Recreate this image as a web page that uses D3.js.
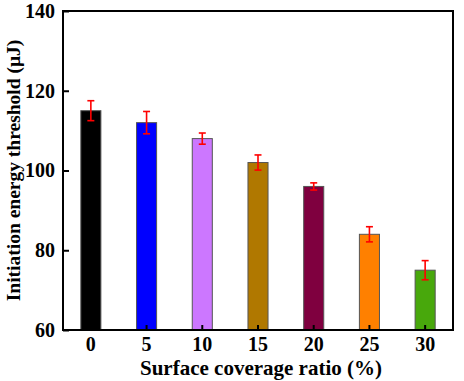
<!DOCTYPE html>
<html><head><meta charset="utf-8">
<script src="https://cdn.jsdelivr.net/npm/d3@7"></script>
<style>body{margin:0;background:#fff}svg{display:block}</style>
</head><body>
<script>
const categories = ["0","5","10","15","20","25","30"];
const values = [115, 112, 108, 102, 96, 84, 75];
const errors = [2.5, 2.8, 1.4, 1.9, 0.9, 1.9, 2.4];
const colors = ["#000000","#0000ff","#cc77ff","#b07800","#7f003f","#ff8000","#48a80c"];
const yTicks = [60, 80, 100, 120, 140];

const W = 464, H = 381;
const m = {l:63, r:11, t:11, b:51};
const svg = d3.select("body").append("svg").attr("width", W).attr("height", H);
const font = "'Liberation Serif','Times New Roman',serif";

const x = d3.scaleBand().domain(categories).range([m.l, W - m.r]).paddingInner(0.64).paddingOuter(0.32);
const y = d3.scaleLinear().domain([60, 140]).range([H - m.b, m.t]);

// bars
svg.append("g").selectAll("rect").data(values).join("rect")
  .attr("x", (d,i) => x(categories[i]))
  .attr("y", d => y(d))
  .attr("width", x.bandwidth())
  .attr("height", d => y(60) - y(d))
  .attr("fill", (d,i) => colors[i])
  .attr("stroke", "#555").attr("stroke-width", 1);

// error bars
const eg = svg.append("g").attr("stroke", "#ff0000").attr("stroke-width", 1.6);
values.forEach((v,i) => {
  const cx = x(categories[i]) + x.bandwidth()/2;
  const e = errors[i];
  eg.append("line").attr("x1", cx).attr("x2", cx).attr("y1", y(v+e)).attr("y2", y(v-e));
  eg.append("line").attr("x1", cx-3.5).attr("x2", cx+3.5).attr("y1", y(v+e)).attr("y2", y(v+e));
  eg.append("line").attr("x1", cx-3.5).attr("x2", cx+3.5).attr("y1", y(v-e)).attr("y2", y(v-e));
});

// axes
const yAxis = d3.axisLeft(y).tickValues(yTicks).tickSizeInner(-6).tickSizeOuter(0).tickPadding(8);
const gy = svg.append("g").attr("transform", `translate(${m.l},0)`).call(yAxis);
const xAxis = d3.axisBottom(x).tickSizeInner(-5).tickSizeOuter(0).tickPadding(7);
const gx = svg.append("g").attr("transform", `translate(0,${H - m.b})`).call(xAxis);
[gy, gx].forEach(g => {
  g.select(".domain").remove();
  g.selectAll(".tick line").attr("stroke", "#000").attr("stroke-width", 2);
  g.selectAll("text").attr("font-family", font).attr("font-weight", "bold")
    .attr("font-size", 20).attr("fill", "#000");
});

// frame
svg.append("rect").attr("x", m.l).attr("y", m.t)
  .attr("width", W - m.r - m.l).attr("height", H - m.b - m.t)
  .attr("fill", "none").attr("stroke", "#000").attr("stroke-width", 2);

// labels
svg.append("text").attr("x", 261).attr("y", 375)
  .attr("text-anchor", "middle").attr("font-family", font).attr("font-weight", "bold")
  .attr("font-size", 21).text("Surface coverage ratio (%)");
svg.append("text").attr("transform", `translate(20,${(m.t + H - m.b)/2}) rotate(-90)`)
  .attr("text-anchor", "middle").attr("font-family", font).attr("font-weight", "bold")
  .attr("font-size", 19.5).text("Initiation energy threshold (μJ)");
</script>
</body></html>
